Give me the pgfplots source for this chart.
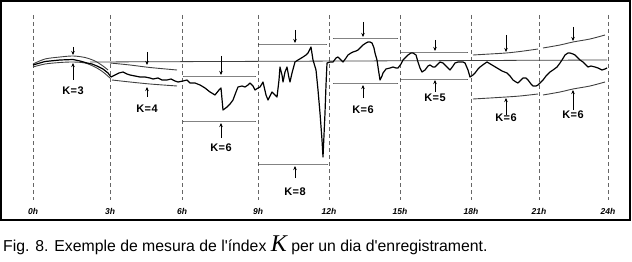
\documentclass[border=0pt]{standalone}
\usepackage{fontspec}
\setmainfont{Liberation Sans}
\newfontfamily\capfont{Liberation Sans}[Ligatures=TeXOff]
\newfontfamily\serifK{Liberation Serif}
\usepackage{pgfplots}
\pgfplotsset{compat=1.18}
\usetikzlibrary{arrows.meta}
\newcommand{\hl}[2]{\node[font=\fontsize{8.5}{9}\selectfont\bfseries\itshape] at (axis cs:#1,211) {#2};}
\newcommand{\kmark}[7]{%
  \draw[black, line width=0.8pt, -{Stealth[length=4pt,width=3.5pt]}] (axis cs:#1,#2) -- (axis cs:#1,#3);
  \draw[black, line width=0.8pt, -{Stealth[length=4pt,width=3.5pt]}] (axis cs:#1,#4) -- (axis cs:#1,#5);
  \node[font=\fontsize{11}{12}\selectfont\bfseries] at (axis cs:#1,#6) {K\kern0.5pt=\kern0.5pt#7};}
\begin{document}
\begin{tikzpicture}
\begin{axis}[
  scale only axis, width=632pt, height=262pt,
  xmin=0, xmax=632, ymin=0, ymax=262, y dir=reverse,
  hide axis, clip=false,
]
\coordinate (tl) at (axis cs:0,0);
\coordinate (br) at (axis cs:632,262);
% frame
\draw[black, line width=1.4pt] (axis cs:1,1) rectangle (axis cs:630,220);
% dashed hour lines
\pgfplotsinvokeforeach{33,110,182,258,329,400,471,539,608}{
  \addplot[gray!80!black, line width=0.8pt, dash pattern=on 4pt off 3pt] coordinates {(#1,15) (#1,200)};
}
% hour labels
\hl{33}{0h}\hl{110}{3h}\hl{182}{6h}\hl{258}{9h}\hl{329}{12h}\hl{400}{15h}\hl{471}{18h}\hl{539}{21h}\hl{608}{24h}
% reference line
\addplot[black!75, line width=0.8pt] coordinates {(90,62) (607,60)};
% band bounds
\pgfplotsset{bnd/.style={black!75, line width=0.9pt, smooth}}
\addplot[bnd] coordinates {(33,64) (45,59) (60,57) (73,56) (85,57.5) (95,61) (103,66) (108,70)};
\addplot[bnd] coordinates {(33,67) (45,64) (60,62.5) (73,62) (85,63) (95,67) (103,72) (110,78)};
\addplot[bnd] coordinates {(110,63) (130,65) (150,67.5) (177,70)};
\addplot[bnd] coordinates {(112,80) (130,82) (150,84) (177,86)};
\addplot[bnd] coordinates {(183,76) (256,76)};
\addplot[bnd] coordinates {(183,121) (256,121)};
\addplot[bnd] coordinates {(258,44) (327,44)};
\addplot[bnd] coordinates {(258,164) (328,164)};
\addplot[bnd] coordinates {(333,38) (398,38)};
\addplot[bnd] coordinates {(333,83) (398,83)};
\addplot[bnd] coordinates {(400,52) (468,52)};
\addplot[bnd] coordinates {(400,79) (468,79)};
\addplot[bnd] coordinates {(473,55) (490,54) (506,53) (520,51.5) (538,49)};
\addplot[bnd] coordinates {(473,99) (490,98) (506,97) (520,96) (538,94)};
\addplot[bnd] coordinates {(543,48) (560,45) (573,42) (590,39) (605,35)};
\addplot[bnd] coordinates {(543,95) (560,92) (573,89) (590,86) (605,82)};
% magnetogram trace
\addplot[black, line width=1.2pt, line join=round] coordinates {
(33,65) (45,61.5) (60,60) (73,59.5) (80,61) (87,63) (92,64) (97,66) (103,69) (108,73) (111,77)
(115,75) (119,73) (123,72) (127,74) (130,75) (135,76) (140,77) (145,77) (150,78) (153,79) (158,78)
(162,80) (167,80) (171,79) (175,81) (178,82) (183,81) (187,80) (190,83) (195,83) (200,85) (205,88)
(210,92) (215,95) (219,90) (221,88) (223,110) (227,107) (230,104) (233,100) (236,92) (238,87)
(242,86) (245,87) (248,85) (250,83) (253,86) (255,90) (258,88) (260,87) (263,82) (266,95) (268,100)
(270,96) (272,92) (275,95) (277,97) (279,80) (280,67) (282,75) (283,82) (285,72) (287,67) (289,78)
(290,82) (292,73) (295,62) (298,60) (303,57) (306,55) (308,53) (311,47) (313,60) (316,70) (318,90)
(320,113) (322,140) (323,157) (324,135) (325,113) (326,85) (327,63) (330,62) (333,62) (336,58)
(338,57) (341,60) (343,62) (346,58) (348,55) (351,53) (353,52) (356,51) (358,50) (361,47) (363,45)
(366,43) (368,42) (370,42) (372,43) (374,48) (375,53) (377,60) (378,67) (380,80) (382,76) (383,73)
(386,69) (390,68) (393,67) (396,68) (398,68) (401,64) (403,60) (406,57) (408,55) (411,53) (413,53)
(416,55) (418,62) (420,68) (422,72) (425,70) (428,66) (430,65) (433,67) (435,67) (438,64) (440,62)
(443,63) (445,65) (448,68) (450,70) (453,66) (455,63) (458,62) (460,62) (463,62) (465,63) (468,70)
(470,77) (473,75) (475,73) (478,69) (480,67) (484,64) (487,62) (492,65) (497,68) (502,71) (507,73)
(510,76) (513,80) (516,82) (518,83) (521,80) (523,78) (526,78) (528,80) (531,84) (533,86) (536,86)
(538,85) (541,82) (543,80) (546,76) (550,72) (553,70) (557,67) (560,63) (562,60) (565,55) (568,53)
(570,53) (573,54) (575,55) (578,58) (580,60) (583,62) (586,65) (588,67) (591,66) (595,67) (598,68)
(602,70) (605,69) (607,68)
};
% arrows and labels
\kmark{73}{47}{55}{80}{63}{91}{3}
\kmark{147}{52}{65}{97}{87}{109}{4}
\kmark{221}{56}{75}{138}{123}{148}{6}
\kmark{295}{30}{43}{178}{166}{192}{8}
\kmark{363}{22}{37}{98}{85}{110}{6}
\kmark{435}{40}{51}{92}{80}{98}{5}
\kmark{506}{35}{52}{115}{98}{118}{6}
\kmark{573}{27}{41}{110}{90}{115}{6}
% caption
\node[anchor=base west, inner sep=0pt, font=\capfont\fontsize{15.8}{16}\selectfont] at (axis cs:3,251)
  {Fig. 8. Exemple de mesura de l'índex {\serifK\itshape\fontsize{24}{24}\selectfont K} per un dia d'enregistrament.};
\end{axis}
\pgfresetboundingbox
\path[use as bounding box] (tl) rectangle (br);
\end{tikzpicture}
\end{document}
